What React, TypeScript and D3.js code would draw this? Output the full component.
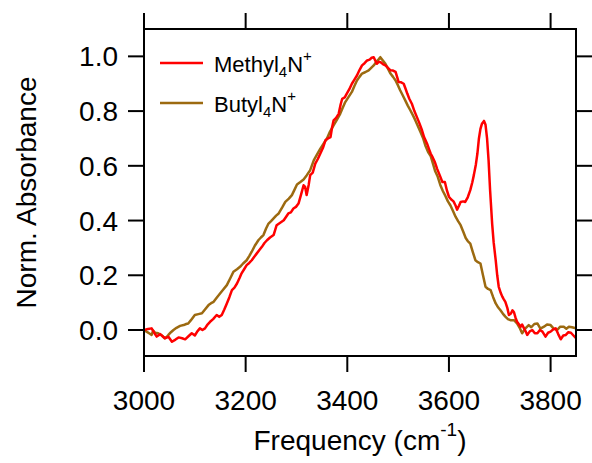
import React from "react";
import * as d3 from "d3";

const methylFreq = [3000,3008,3015,3020,3025,3032,3041,3048,3055,3062,3068,3075,3081,3088,3094,3100,3105,3110,3115,3120,3125,3130,3136,3143,3148,3153,3158,3163,3168,3173,3178,3183,3188,3192,3197,3202,3207,3212,3217,3222,3227,3232,3237,3242,3248,3255,3258,3261,3268,3275,3280,3284,3289,3294,3299,3304,3309,3314,3317,3320,3324,3327,3332,3337,3342,3347,3352,3357,3362,3367,3370,3373,3378,3383,3387,3390,3395,3399,3404,3409,3414,3419,3424,3429,3434,3439,3444,3448,3452,3455,3458,3462,3465,3470,3475,3480,3485,3490,3495,3498,3501,3506,3511,3515,3518,3522,3527,3532,3537,3542,3547,3551,3554,3557,3561,3564,3567,3572,3577,3582,3587,3592,3596,3600,3604,3609,3613,3616,3620,3623,3628,3632,3637,3642,3646,3649,3653,3656,3659,3662,3665,3669,3672,3675,3678,3681,3685,3688,3692,3695,3698,3702,3705,3708,3711,3715,3718,3722,3725,3728,3731,3734,3738,3741,3744,3748,3751,3754,3759,3764,3769,3774,3779,3784,3790,3795,3800,3805,3810,3815,3820,3825,3830,3835,3840,3845,3850];
const methylAbs = [0.000,0.004,0.006,-0.010,-0.024,-0.015,-0.030,-0.025,-0.043,-0.035,-0.027,-0.030,-0.034,-0.022,-0.012,-0.020,-0.005,0.006,0.000,0.006,0.020,0.030,0.040,0.055,0.048,0.055,0.075,0.097,0.120,0.146,0.155,0.170,0.190,0.207,0.222,0.237,0.245,0.255,0.268,0.280,0.292,0.304,0.318,0.328,0.338,0.347,0.365,0.383,0.392,0.401,0.415,0.426,0.430,0.444,0.450,0.462,0.495,0.529,0.523,0.493,0.530,0.566,0.575,0.608,0.625,0.645,0.665,0.693,0.700,0.705,0.740,0.766,0.775,0.790,0.825,0.845,0.850,0.864,0.880,0.900,0.915,0.930,0.950,0.967,0.975,0.985,0.988,0.995,0.997,0.985,0.973,0.980,0.979,0.972,0.967,0.958,0.949,0.948,0.943,0.925,0.906,0.905,0.900,0.880,0.864,0.845,0.827,0.800,0.778,0.755,0.730,0.705,0.693,0.681,0.660,0.645,0.635,0.615,0.588,0.565,0.541,0.541,0.510,0.487,0.478,0.470,0.455,0.440,0.455,0.468,0.470,0.468,0.485,0.511,0.540,0.566,0.605,0.645,0.700,0.735,0.754,0.764,0.750,0.700,0.620,0.510,0.389,0.320,0.255,0.200,0.158,0.135,0.122,0.112,0.103,0.080,0.055,0.060,0.072,0.065,0.045,0.030,0.020,0.012,0.020,0.005,-0.005,-0.018,-0.005,0.000,-0.012,-0.012,0.000,-0.006,-0.024,-0.010,-0.006,0.002,0.006,-0.015,-0.034,-0.020,-0.018,-0.008,-0.010,-0.020,-0.030];

const butylFreq = [3000,3005,3010,3015,3018,3022,3028,3035,3041,3045,3048,3053,3058,3064,3071,3078,3083,3087,3092,3096,3100,3107,3114,3120,3127,3132,3137,3143,3150,3156,3163,3170,3176,3183,3189,3195,3202,3207,3212,3218,3225,3230,3235,3240,3245,3250,3255,3260,3265,3272,3278,3285,3291,3296,3301,3307,3314,3320,3327,3334,3340,3347,3353,3360,3366,3373,3380,3386,3391,3396,3402,3409,3414,3419,3424,3429,3435,3442,3447,3452,3458,3462,3465,3470,3475,3480,3485,3490,3495,3500,3504,3509,3514,3519,3524,3529,3534,3539,3544,3549,3554,3559,3564,3569,3573,3578,3583,3588,3593,3598,3603,3608,3613,3618,3623,3628,3633,3637,3642,3647,3652,3657,3662,3667,3672,3677,3682,3687,3692,3697,3701,3706,3711,3716,3721,3728,3734,3740,3744,3750,3757,3762,3768,3774,3780,3787,3793,3800,3806,3813,3819,3826,3831,3836,3842,3850];
const butylAbs = [0.000,-0.006,-0.012,-0.018,-0.002,-0.010,-0.012,-0.020,-0.030,-0.025,-0.018,-0.008,0.000,0.008,0.015,0.018,0.022,0.024,0.035,0.045,0.055,0.058,0.061,0.075,0.091,0.098,0.103,0.118,0.134,0.148,0.164,0.190,0.213,0.222,0.231,0.243,0.255,0.270,0.286,0.308,0.328,0.338,0.347,0.370,0.389,0.398,0.408,0.418,0.426,0.448,0.468,0.480,0.493,0.512,0.532,0.540,0.550,0.565,0.584,0.620,0.640,0.663,0.680,0.700,0.725,0.748,0.770,0.790,0.812,0.833,0.850,0.870,0.892,0.912,0.925,0.937,0.942,0.949,0.958,0.967,0.982,0.990,0.997,0.985,0.973,0.955,0.937,0.925,0.912,0.893,0.876,0.858,0.839,0.820,0.803,0.785,0.766,0.745,0.724,0.702,0.672,0.650,0.636,0.605,0.580,0.560,0.530,0.508,0.490,0.470,0.455,0.435,0.414,0.398,0.383,0.360,0.336,0.325,0.316,0.285,0.255,0.248,0.243,0.200,0.158,0.150,0.146,0.120,0.097,0.082,0.073,0.060,0.049,0.040,0.036,0.036,0.024,0.005,-0.012,0.005,0.018,0.010,0.022,0.024,0.005,0.012,0.020,0.018,0.005,0.000,0.012,0.012,0.005,0.012,0.010,0.006];

const xTicks = [3000, 3200, 3400, 3600, 3800];
const yTicks = [0.0, 0.2, 0.4, 0.6, 0.8, 1.0];
const seriesNames = ["Methyl", "Butyl"];
const seriesColors = ["#ff0000", "#9c6a10"];

const W = 592, H = 463;
const L = 144, R = 576, T = 29, B = 356;
const FONT = "'Liberation Sans', Arial, sans-serif";

export default function App() {
  const x = d3.scaleLinear().domain([3000, 3850]).range([L, R]);
  const y = d3.scaleLinear().domain([-0.095, 1.1]).range([B, T]);
  const line = d3.line<[number, number]>().x(d => x(d[0])).y(d => y(d[1]));
  const mData = methylFreq.map((f, i) => [f, methylAbs[i]] as [number, number]);
  const bData = butylFreq.map((f, i) => [f, butylAbs[i]] as [number, number]);
  const tickLen = 16;
  return (
    <svg width={W} height={H} style={{ position: "absolute", left: 0, top: 0, background: "#fff" }} fontFamily={FONT}>
      <defs>
        <clipPath id="plotclip"><rect x={L} y={T} width={R - L} height={B - T} /></clipPath>
      </defs>
      <g clipPath="url(#plotclip)">
        <path d={line(bData) || ""} fill="none" stroke={seriesColors[1]} strokeWidth={2.5} strokeLinejoin="round" />
        <path d={line(mData) || ""} fill="none" stroke={seriesColors[0]} strokeWidth={2.5} strokeLinejoin="round" />
      </g>
      <rect x={L} y={T} width={R - L} height={B - T} fill="none" stroke="#000" strokeWidth={2} />
      {xTicks.map(t => (
        <g key={"x" + t}>
          <line x1={x(t)} x2={x(t)} y1={B} y2={B + tickLen} stroke="#000" strokeWidth={2} />
          <line x1={x(t)} x2={x(t)} y1={T} y2={T - tickLen} stroke="#000" strokeWidth={2} />
          <text x={x(t)} y={410} textAnchor="middle" fontSize={28} fill="#000">{t}</text>
        </g>
      ))}
      {yTicks.map(t => (
        <g key={"y" + t}>
          <line x1={L} x2={L - tickLen} y1={y(t)} y2={y(t)} stroke="#000" strokeWidth={2} />
          <line x1={R} x2={R + tickLen} y1={y(t)} y2={y(t)} stroke="#000" strokeWidth={2} />
          <text x={118} y={y(t) + 10} textAnchor="end" fontSize={28} fill="#000">{t.toFixed(1)}</text>
        </g>
      ))}
      <text x={(L + R) / 2} y={450} textAnchor="middle" fontSize={28} fill="#000">
        Frequency (cm<tspan fontSize={19} dy={-14}>-1</tspan><tspan dy={14}>)</tspan>
      </text>
      <text transform={`translate(36,${(T + B) / 2}) rotate(-90)`} textAnchor="middle" fontSize={28} fill="#000">Norm. Absorbance</text>
      {seriesNames.map((n, i) => (
        <g key={n}>
          <line x1={160} x2={203} y1={63 + i * 40} y2={63 + i * 40} stroke={seriesColors[i]} strokeWidth={2.5} />
          <text x={214} y={72 + i * 40} fontSize={22} fill="#000">
            {n}<tspan fontSize={15} dy={5}>4</tspan><tspan dy={-5}>N</tspan><tspan fontSize={15} dy={-11}>+</tspan>
          </text>
        </g>
      ))}
    </svg>
  );
}
